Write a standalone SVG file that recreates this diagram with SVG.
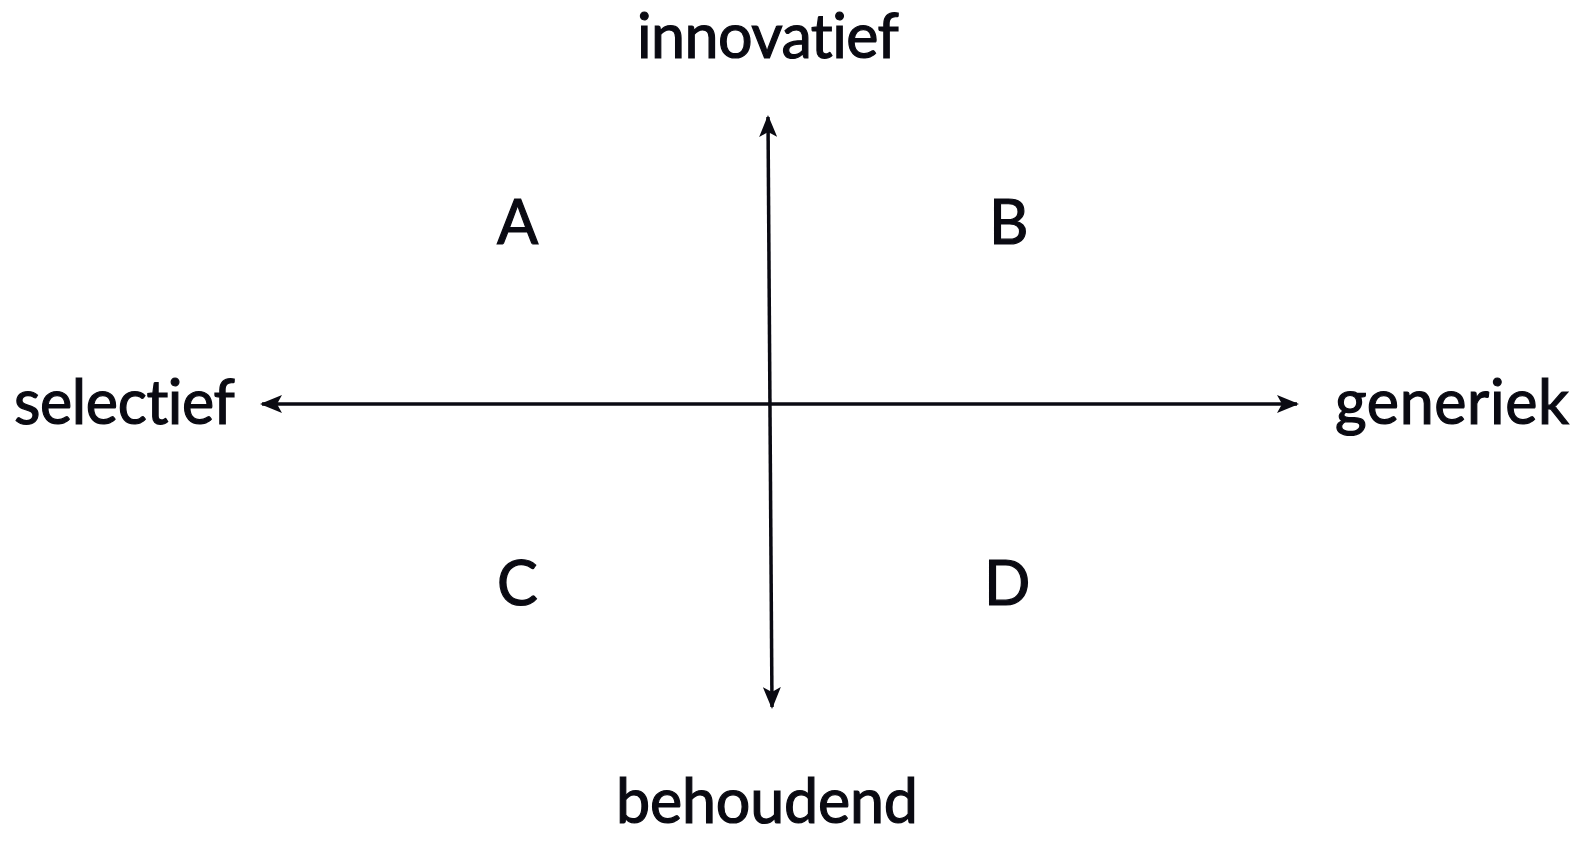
<svg xmlns="http://www.w3.org/2000/svg" width="1591" height="844" viewBox="0 0 1591 844">
<style>
.lbl{font-family:Lato,"Open Sans","Liberation Sans",sans-serif;font-size:61px;fill:#0a0a12;stroke:#0a0a12;stroke-width:1.2px;font-variant-ligatures:none;font-feature-settings:"liga" 0}
.ax{stroke:#0a0a12;stroke-width:3.5;fill:none}
</style>
<defs>
<marker id="ah" viewBox="0 0 22 18" refX="20" refY="9" markerWidth="22" markerHeight="18" markerUnits="userSpaceOnUse" orient="auto-start-reverse">
<path d="M0,0 L22,9 L0,18 L5,9 Z" fill="#0a0a12"/>
</marker>
</defs>
<rect width="1591" height="844" fill="#ffffff"/>
<g id="connectors">
<line class="ax" x1="768" y1="117" x2="772" y2="707" marker-start="url(#ah)" marker-end="url(#ah)"/>
<line class="ax" x1="262" y1="404" x2="1297" y2="404" marker-start="url(#ah)" marker-end="url(#ah)"/>
</g>
<g id="innovatief"><text class="lbl" x="637" y="58" textLength="262">innovatief</text></g>
<g id="behoudend"><text class="lbl" x="616" y="823" textLength="302">behoudend</text></g>
<g id="selectief"><text class="lbl" x="14" y="424" textLength="221">selectief</text></g>
<g id="generiek"><text class="lbl" x="1335" y="424" textLength="234">generiek</text></g>
<g id="A"><text class="lbl" x="497" y="244">A</text></g>
<g id="B"><text class="lbl" x="989" y="244">B</text></g>
<g id="C"><text class="lbl" x="497" y="605">C</text></g>
<g id="D"><text class="lbl" x="984" y="605">D</text></g>
</svg>
